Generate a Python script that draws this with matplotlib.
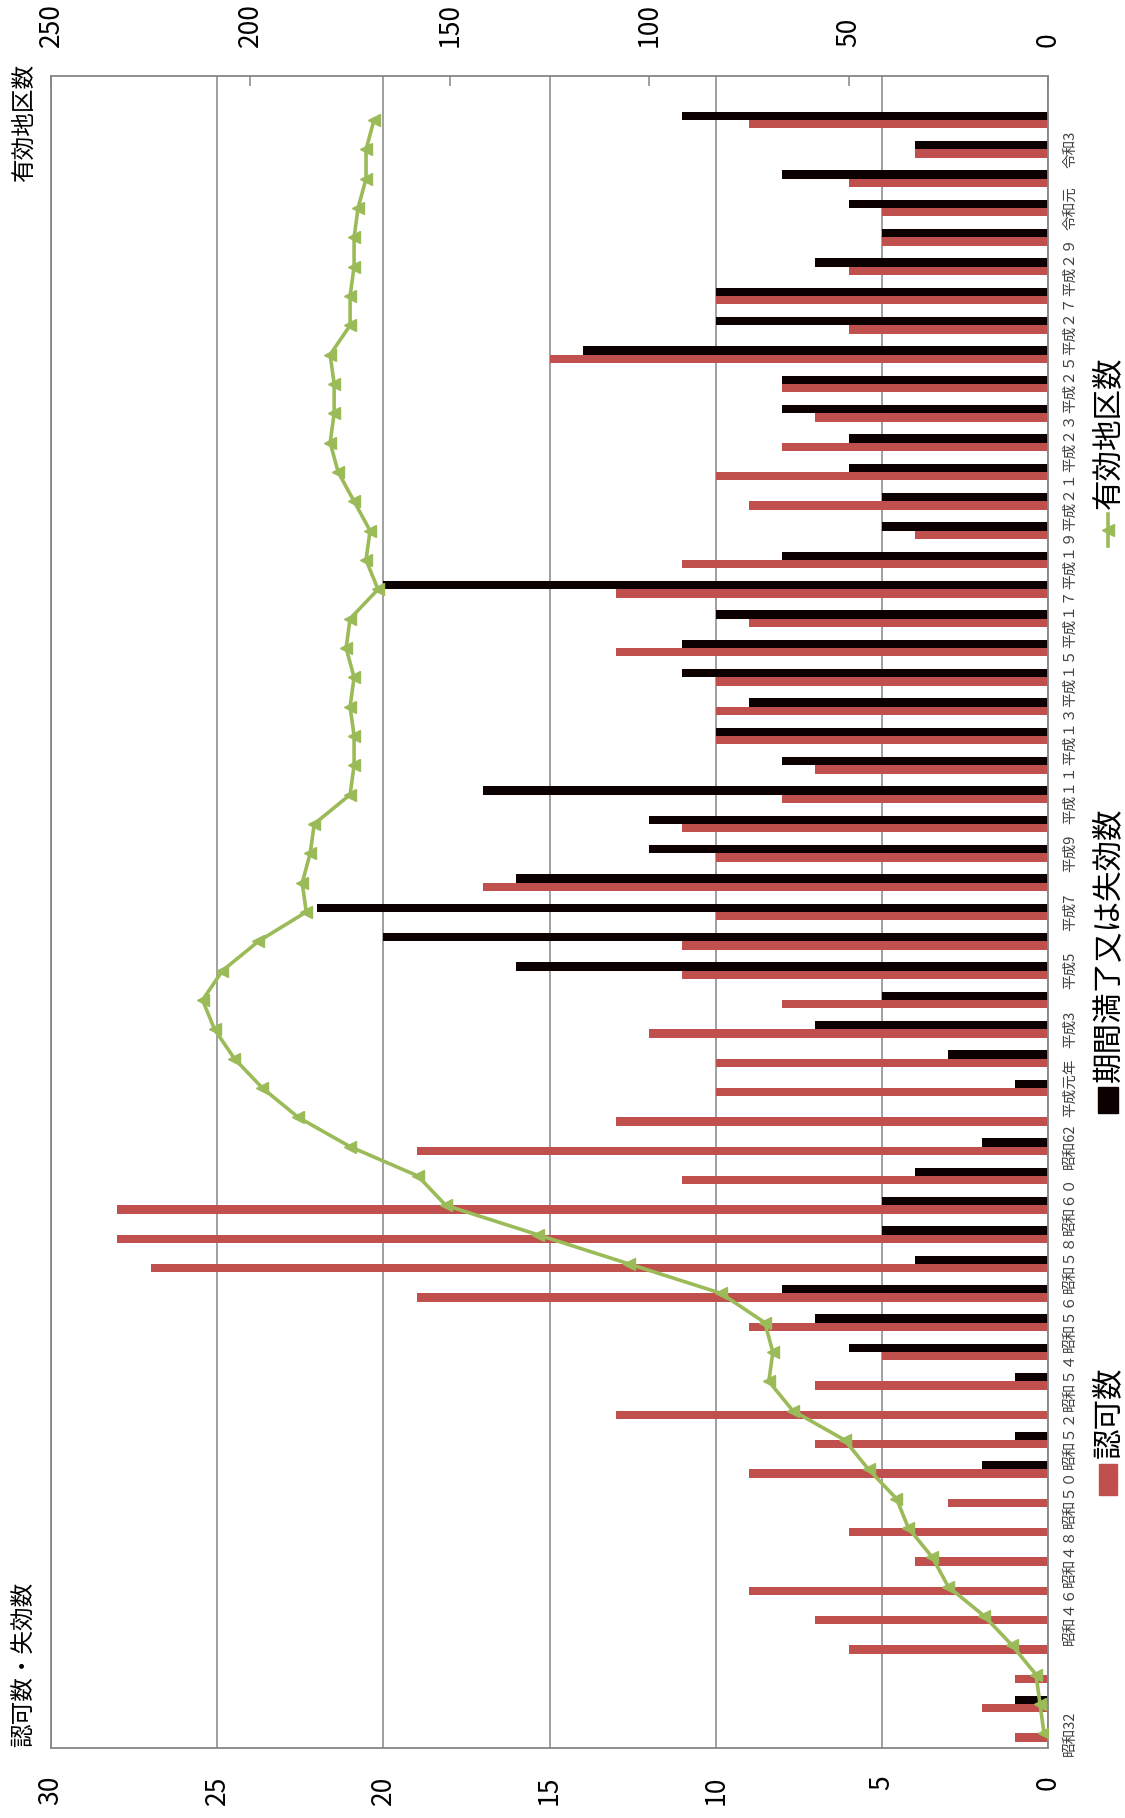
import matplotlib
matplotlib.use("Agg")
import matplotlib.pyplot as plt
from matplotlib.patches import Rectangle
from matplotlib.lines import Line2D
import numpy as np

plt.rcParams['font.family'] = ['Noto Sans CJK JP', 'DejaVu Sans']

# ---------------- data ----------------
# category labels shown on every other category (57 categories, top one empty)
tick_labels = [
    "昭和32", "", "昭和４６", "昭和４８", "昭和５０", "昭和５２", "昭和５４",
    "昭和５６", "昭和５８", "昭和６０", "昭和62", "平成元年", "平成3", "平成5",
    "平成7", "平成9", "平成１１", "平成１３", "平成１５", "平成１７", "平成１９",
    "平成２１", "平成２３", "平成２５", "平成２７", "平成２９", "令和元", "令和3", "",
]
n_categories = 57

# 認可数
approvals = [1, 2, 1, 6, 7, 9, 4, 6, 3, 9, 7, 13, 7, 5, 9, 19, 27, 28, 28, 11,
             19, 13, 10, 10, 12, 8, 11, 11, 10, 17, 10, 11, 8, 7, 10, 10, 10, 13,
             9, 13, 11, 4, 9, 10, 8, 7, 8, 15, 6, 10, 6, 5, 5, 6, 4, 9]
# 期間満了又は失効数
expired = [0, 1, 0, 0, 0, 0, 0, 0, 0, 2, 1, 0, 1, 6, 7, 8, 4, 5, 5, 4,
           2, 0, 1, 3, 7, 5, 16, 20, 22, 16, 12, 12, 17, 8, 10, 9, 11, 11,
           10, 20, 8, 5, 5, 6, 6, 8, 8, 14, 10, 10, 7, 5, 6, 8, 4, 11]
# 有効地区数
active = [1, 2, 3, 9, 16, 25, 29, 35, 38, 45, 51, 64, 70, 69, 71, 82, 105, 128,
          151, 158, 175, 188, 197, 204, 209, 212, 207, 198, 186, 187, 185, 184,
          175, 174, 174, 175, 174, 176, 175, 168, 171, 170, 174, 178, 180, 179,
          179, 180, 175, 175, 174, 174, 173, 171, 171, 169]

left_ticks = [0, 5, 10, 15, 20, 25, 30]
right_ticks = [0, 50, 100, 150, 200, 250]

# ---------------- style ----------------
RED = '#C0504D'
BLACK = '#0C0000'
GREEN = '#9BBB59'
GRID = '#868686'

W, H = 1125, 1818
fig = plt.figure(figsize=(W / 100, H / 100), dpi=100)

def fx(px):
    return px / W

def fy(py):
    return 1 - py / H

L, R, T, B = 51, 1048, 76, 1748
ax = fig.add_axes([fx(L), fy(B), fx(R - L), (B - T) / H])

idx = np.arange(len(approvals))
h = 0.285
ax.barh(idx - h / 2, approvals, height=h, color=RED, zorder=2)
ax.barh(idx + h / 2, expired, height=h, color=BLACK, zorder=2)

ax.set_xlim(30, 0)
ax.set_ylim(-0.5, n_categories - 0.5)
ax.set_xticks(left_ticks)
ax.set_xticklabels([str(t) for t in left_ticks], rotation=90, fontsize=19)
ax.tick_params(axis='x', length=0, pad=20)
ax.xaxis.grid(True, color=GRID, lw=1.1, zorder=0)
ax.set_axisbelow(True)

ax.yaxis.tick_right()
ax.set_yticks(np.arange(0, n_categories, 2))
ax.set_yticklabels(tick_labels, rotation=90, va='center', ha='left',
                   fontsize=10.5, color='#404040')
ax.tick_params(axis='y', length=0, pad=11)
for s in ax.spines.values():
    s.set_color(GRID)
    s.set_linewidth(1.3)

ax2 = ax.twiny()
ax2.plot(active, idx, color=GREEN, lw=2.6, marker='<', ms=8,
         markerfacecolor=GREEN, markeredgecolor=GREEN, zorder=3)
ax2.set_xlim(250, 0)
ax2.set_xticks(right_ticks)
ax2.set_xticklabels([str(t) for t in right_ticks], rotation=90, fontsize=19)
ax2.tick_params(axis='x', direction='in', length=7, width=1.1, color=GRID, pad=21)
for s in ax2.spines.values():
    s.set_visible(False)

# axis titles
fig.text(fx(24), fy(1747), '認可数・失効数', rotation=90, ha='center', va='bottom',
         fontsize=17)
fig.text(fx(24), fy(64), '有効地区数', rotation=90, ha='center', va='top',
         fontsize=17)

# legend (drawn rotated like the chart)
lx = 1108
fig.add_artist(Rectangle((fx(lx - 9), fy(1495)), 18 / W, 31 / H,
                         transform=fig.transFigure, color=RED))
fig.text(fx(lx), fy(1458), '認可数', rotation=90, ha='center', va='bottom',
         fontsize=22)
fig.add_artist(Rectangle((fx(lx - 10), fy(1113)), 20 / W, 26 / H,
                         transform=fig.transFigure, color=BLACK))
fig.text(fx(lx), fy(1082), '期間満了又は失効数', rotation=90, ha='center',
         va='bottom', fontsize=22)
fig.add_artist(Line2D([fx(lx), fx(lx)], [fy(546), fy(514)],
                      transform=fig.transFigure, color=GREEN, lw=2.6))
fig.add_artist(Line2D([fx(lx)], [fy(530)], transform=fig.transFigure,
                      color=GREEN, marker='<', ms=8, lw=0))
fig.text(fx(lx), fy(509), '有効地区数', rotation=90, ha='center', va='bottom',
         fontsize=22)

fig.savefig('out.png', dpi=100)
